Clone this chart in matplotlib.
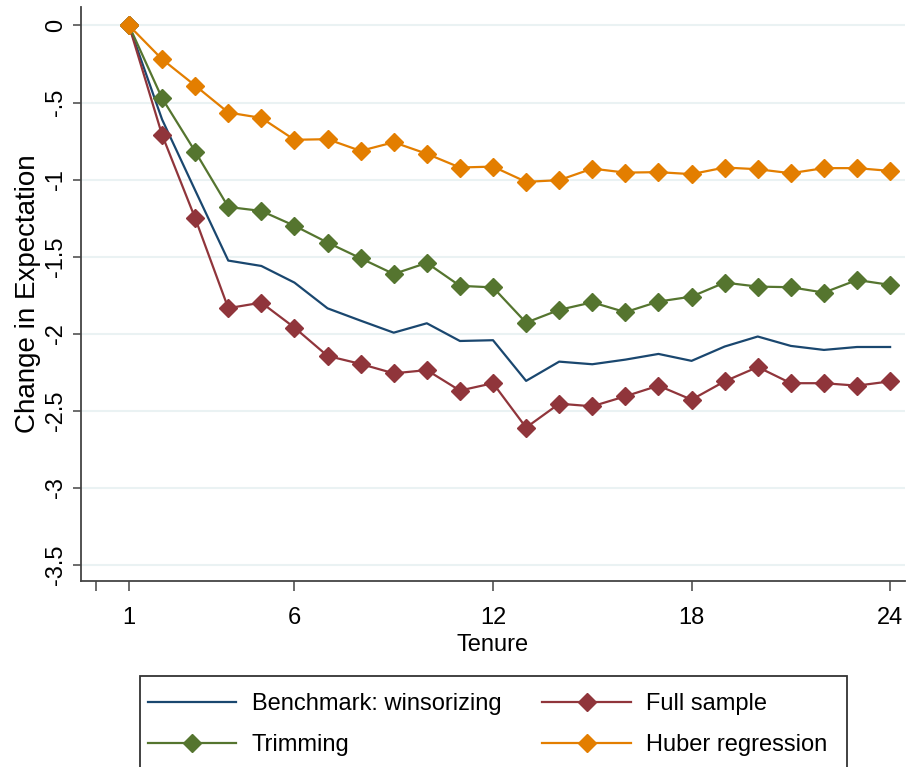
import numpy as np
import matplotlib
matplotlib.use("Agg")
import matplotlib.pyplot as plt
from matplotlib.patches import Rectangle

# data
tenure = np.arange(1, 25)
benchmark = [0, -0.61, -1.07, -1.526, -1.561, -1.669, -1.836, -1.916, -1.994, -1.933, -2.048, -2.043,
             -2.307, -2.182, -2.199, -2.169, -2.132, -2.177, -2.084, -2.019, -2.080, -2.106, -2.087, -2.087]
full_sample = [0, -0.71, -1.251, -1.835, -1.799, -1.961, -2.145, -2.197, -2.258, -2.237, -2.37, -2.322,
               -2.61, -2.455, -2.472, -2.407, -2.338, -2.429, -2.31, -2.217, -2.322, -2.322, -2.338, -2.31]
trimming = [0, -0.472, -0.818, -1.178, -1.204, -1.30, -1.409, -1.511, -1.613, -1.541, -1.69, -1.70,
            -1.929, -1.846, -1.797, -1.861, -1.792, -1.760, -1.669, -1.695, -1.699, -1.734, -1.652, -1.684]
huber = [0, -0.219, -0.39, -0.565, -0.60, -0.742, -0.738, -0.814, -0.758, -0.833, -0.922, -0.916,
         -1.015, -1.004, -0.929, -0.955, -0.952, -0.965, -0.922, -0.933, -0.959, -0.926, -0.926, -0.944]

xticks = [0, 1, 6, 12, 18, 24]
xticklabels = ["", "1", "6", "12", "18", "24"]
yticks = [0, -0.5, -1, -1.5, -2, -2.5, -3, -3.5]
yticklabels = ["0", "-.5", "-1", "-1.5", "-2", "-2.5", "-3", "-3.5"]

navy = "#1a476f"
maroon = "#90353b"
green = "#55752f"
orange = "#e37e00"

plt.rcParams["font.family"] = ["Liberation Sans", "DejaVu Sans"]

W, H = 914, 767
fig = plt.figure(figsize=(W / 100, H / 100), dpi=100)
ax = fig.add_axes([81 / W, 1 - 581 / H, (905 - 81) / W, (581 - 7) / H])

ax.set_xlim(-0.45, 24.45)
ax.set_ylim(-3.606, 0.12)

for v in yticks:
    ax.axhline(v, color="#eaf2f3", lw=1.5, zorder=0)

ax.plot(tenure, benchmark, color=navy, lw=1.6, label="Benchmark: winsorizing", zorder=3)
ax.plot(tenure, full_sample, color=maroon, lw=1.6, marker="D", ms=9.5, label="Full sample", zorder=4)
ax.plot(tenure, trimming, color=green, lw=1.6, marker="D", ms=9.5, label="Trimming", zorder=5)
ax.plot(tenure, huber, color=orange, lw=1.6, marker="D", ms=9.5, label="Huber regression", zorder=6)

for s in ["top", "right"]:
    ax.spines[s].set_visible(False)
for s in ["left", "bottom"]:
    ax.spines[s].set_color("#444444")
    ax.spines[s].set_linewidth(1.3)

ax.set_xticks(xticks)
ax.set_xticklabels(xticklabels, fontsize=17)
ax.set_yticks(yticks)
ax.set_yticklabels(yticklabels, fontsize=17, rotation=90, va="center")
ax.tick_params(axis="x", length=7.5, width=1.1, color="#444444", pad=11)
ax.tick_params(axis="y", length=6, width=1.1, color="#444444", pad=4)

ax.set_xlabel("Tenure", fontsize=17, labelpad=4)
ax.set_ylabel("Change in Expectation", fontsize=20, labelpad=3)

# legend box runs off the bottom of the picture
fig.patches.append(Rectangle((140 / W, -0.05), (847 - 140) / W, (767 - 676) / H + 0.05,
                             transform=fig.transFigure, fill=False, ec="#333333", lw=1.3))
handles, labels = ax.get_legend_handles_labels()
order = [0, 2, 1, 3]
fig.legend([handles[i] for i in order], [labels[i] for i in order],
           loc="upper left", bbox_to_anchor=(146 / W, 1 - 691 / H), ncol=2, frameon=False,
           prop={"size": 17}, handlelength=3.73, handletextpad=0.64,
           columnspacing=1.75, labelspacing=0.78, borderpad=0.1, borderaxespad=0)

fig.savefig("out.png", dpi=100)
